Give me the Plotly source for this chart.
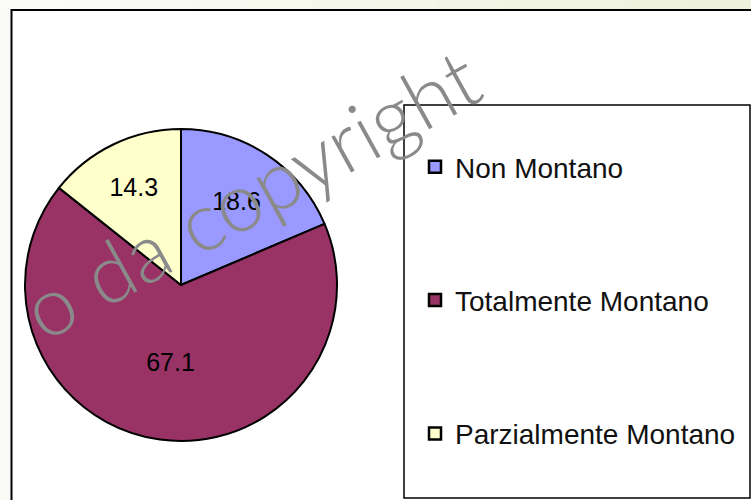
import plotly.graph_objects as go

W, H = 751, 500

labels = ["Non Montano", "Totalmente Montano", "Parzialmente Montano"]
values = [18.6, 67.1, 14.3]
colors = ["#9999FF", "#993366", "#FFFFCC"]
watermark = "o da copyright"

def px(x):
    return x / W

def py(y):
    return 1 - y / H

fig = go.Figure()

fig.add_trace(go.Pie(
    labels=labels,
    values=values,
    sort=False,
    direction="clockwise",
    rotation=0,
    marker=dict(colors=colors, line=dict(color="black", width=2)),
    textinfo="value",
    texttemplate="%{value:.1f}",
    textposition="inside",
    insidetextorientation="horizontal",
    textfont=dict(family="Liberation Sans, Arial", size=25, color="black"),
    showlegend=False,
    domain=dict(x=[px(25), px(337)], y=[py(441), py(129)]),
    hoverinfo="label+value",
))

for i, (lab, col) in enumerate(zip(labels, colors)):
    fig.add_trace(go.Scatter(
        x=[None], y=[None], mode="markers", name=lab,
        legendgroup=f"g{i}",
        marker=dict(symbol="square", color=col, size=12,
                    line=dict(color="black", width=2.5)),
    ))

shapes = []
n = 12
for k in range(n):
    t = k / (n - 1)
    r = int(0xfb + (0xee - 0xfb) * t)
    g = int(0xfb + (0xf2 - 0xfb) * t)
    b = int(0xf8 + (0xdc - 0xf8) * t)
    shapes.append(dict(type="rect", xref="paper", yref="paper",
                       x0=px(W * k / n), x1=px(W * (k + 1) / n + 1),
                       y0=py(10), y1=1.0, line=dict(width=0),
                       fillcolor=f"rgb({r},{g},{b})", layer="below"))
shapes.append(dict(type="rect", xref="paper", yref="paper",
                   x0=px(11.5), y0=py(10), x1=px(W + 20), y1=py(H + 20),
                   line=dict(color="black", width=2), fillcolor="white",
                   layer="below"))
shapes.append(dict(type="rect", xref="paper", yref="paper",
                   x0=px(404), y0=py(105), x1=px(750), y1=py(498),
                   line=dict(color="black", width=1.5), fillcolor="white",
                   layer="below"))

fig.update_layout(
    width=W, height=H,
    margin=dict(l=0, r=0, t=0, b=0),
    paper_bgcolor="#fafaf6",
    plot_bgcolor="rgba(0,0,0,0)",
    xaxis=dict(visible=False),
    yaxis=dict(visible=False),
    shapes=shapes,
    showlegend=True,
    legend=dict(
        x=px(415), y=py(142), xanchor="left", yanchor="top",
        bgcolor="rgba(0,0,0,0)", borderwidth=0,
        tracegroupgap=94,
        font=dict(family="Liberation Sans, Arial", size=28, color="#111111"),
    ),
    annotations=[dict(
        text=watermark, xref="paper", yref="paper",
        x=px(250), y=py(192), xanchor="center", yanchor="middle",
        textangle=-29, showarrow=False,
        font=dict(family="Lato, Open Sans", size=82, color="#8a8a8a", weight=300),
    )],
)

fig.write_html("out.html", config={"displayModeBar": False},
               post_script="document.body.style.margin='0';")
